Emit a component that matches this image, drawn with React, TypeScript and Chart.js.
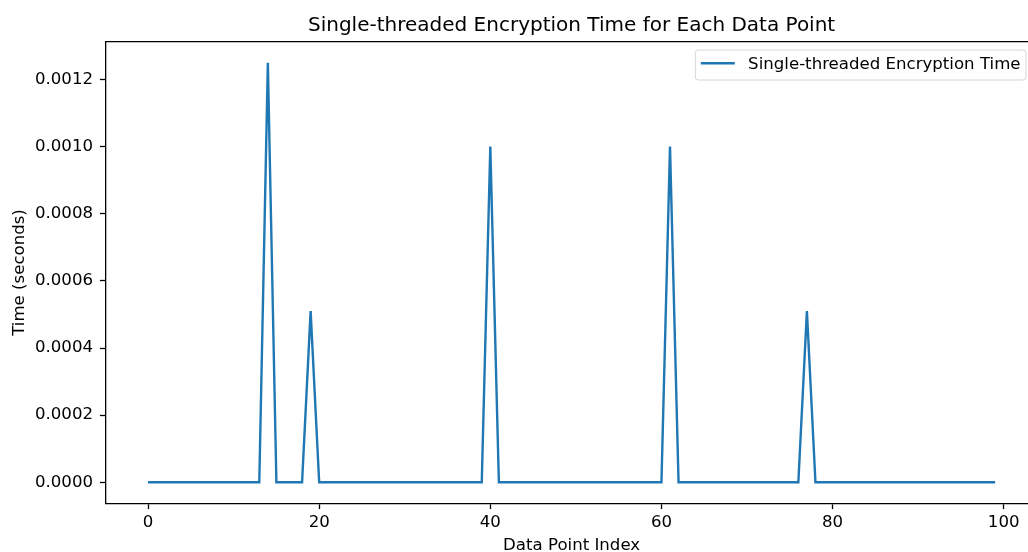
import React, { useEffect, useRef } from 'react';
import { Chart, registerables } from 'chart.js';

Chart.register(...registerables);

const TITLE = 'Single-threaded Encryption Time for Each Data Point';
const X_LABEL = 'Data Point Index';
const Y_LABEL = 'Time (seconds)';
const SERIES_LABEL = 'Single-threaded Encryption Time';

// encryption time (seconds) per data point index 0..99
const encryptionTimes = [
  0, 0, 0, 0, 0, 0, 0, 0, 0, 0,
  0, 0, 0, 0, 0.00125, 0, 0, 0, 0, 0.00051,
  0, 0, 0, 0, 0, 0, 0, 0, 0, 0,
  0, 0, 0, 0, 0, 0, 0, 0, 0, 0,
  0.001, 0, 0, 0, 0, 0, 0, 0, 0, 0,
  0, 0, 0, 0, 0, 0, 0, 0, 0, 0,
  0, 0.001, 0, 0, 0, 0, 0, 0, 0, 0,
  0, 0, 0, 0, 0, 0, 0, 0.00051, 0, 0,
  0, 0, 0, 0, 0, 0, 0, 0, 0, 0,
  0, 0, 0, 0, 0, 0, 0, 0, 0, 0,
];

const xTicks = [0, 20, 40, 60, 80, 100];
const yTicks = [0, 0.0002, 0.0004, 0.0006, 0.0008, 0.001, 0.0012];

const FONT = '"DejaVu Sans", "Liberation Sans", sans-serif';
const LINE_COLOR = '#1f77b4';

const decorPlugin = {
  id: 'decor',
  afterDraw(chart: any) {
    const { ctx, chartArea: a } = chart;
    ctx.save();
    // top spine (right spine lies beyond the visible page)
    ctx.strokeStyle = '#000';
    ctx.lineWidth = 1.3;
    ctx.beginPath();
    ctx.moveTo(a.left, a.top);
    ctx.lineTo(a.right, a.top);
    ctx.stroke();

    // title
    ctx.fillStyle = '#000';
    ctx.font = `20px ${FONT}`;
    ctx.textAlign = 'center';
    ctx.textBaseline = 'alphabetic';
    ctx.fillText(TITLE, (a.left + a.right) / 2, a.top - 11);

    // legend
    ctx.font = `16.6px ${FONT}`;
    const tw = ctx.measureText(SERIES_LABEL).width;
    const pad = 5.5;
    const handle = 34;
    const gap = 13.3;
    const right = a.right - 11.5;
    const left = right - (pad * 2 + handle + gap + tw);
    const top = a.top + 8.3;
    const h = 30;
    ctx.beginPath();
    ctx.roundRect(left, top, right - left, h, 3);
    ctx.fillStyle = 'rgba(255,255,255,0.8)';
    ctx.fill();
    ctx.strokeStyle = '#d6d6d6';
    ctx.lineWidth = 1;
    ctx.stroke();

    const ly = top + 13.3;
    ctx.beginPath();
    ctx.moveTo(left + pad, ly);
    ctx.lineTo(left + pad + handle, ly);
    ctx.strokeStyle = LINE_COLOR;
    ctx.lineWidth = 2.4;
    ctx.stroke();

    ctx.fillStyle = '#000';
    ctx.textAlign = 'left';
    ctx.textBaseline = 'alphabetic';
    ctx.fillText(SERIES_LABEL, left + pad + handle + gap, top + 19.3);
    ctx.restore();
  },
};

export default function App() {
  const canvasRef = useRef<HTMLCanvasElement | null>(null);

  useEffect(() => {
    const canvas = canvasRef.current;
    if (!canvas) return;
    const points = encryptionTimes.map((v, i) => ({ x: i, y: v }));
    const chart = new Chart(canvas, {
      type: 'line',
      data: {
        datasets: [
          {
            label: SERIES_LABEL,
            data: points,
            borderColor: LINE_COLOR,
            backgroundColor: LINE_COLOR,
            borderWidth: 2.4,
            pointRadius: 0,
            tension: 0,
            fill: false,
          },
        ],
      },
      options: {
        animation: false,
        responsive: false,
        layout: { padding: { left: 0, top: 41.7, right: 8.5, bottom: 0 } },
        plugins: {
          legend: { display: false },
          title: { display: false },
          tooltip: { enabled: false },
        },
        scales: {
          x: {
            type: 'linear',
            min: -4.95,
            max: 103.95,
            afterBuildTicks: (scale: any) => {
              scale.ticks = xTicks.map((v) => ({ value: v }));
            },
            afterFit: (scale: any) => {
              scale.height = 48.7;
            },
            ticks: {
              color: '#000',
              font: { family: FONT, size: 16.6 },
              padding: 3.5,
              maxRotation: 0,
              callback: (v: any) => String(v),
            },
            grid: {
              drawOnChartArea: false,
              drawTicks: true,
              tickLength: 5.8,
              tickColor: '#000',
              tickWidth: 1.3,
              color: '#000',
            },
            border: { display: true, color: '#000', width: 1.3 },
            title: {
              display: true,
              text: X_LABEL,
              color: '#000',
              font: { family: FONT, size: 16.6, lineHeight: 0.76 },
              padding: { top: 0, bottom: 0 },
            },
          },
          y: {
            type: 'linear',
            min: -0.0000625,
            max: 0.0013125,
            afterBuildTicks: (scale: any) => {
              scale.ticks = yTicks.map((v) => ({ value: v }));
            },
            afterFit: (scale: any) => {
              scale.width = 105.7;
            },
            ticks: {
              color: '#000',
              font: { family: FONT, size: 16.6 },
              padding: 6.9,
              callback: (v: any) => Number(v).toFixed(4),
            },
            grid: {
              drawOnChartArea: false,
              drawTicks: true,
              tickLength: 5.8,
              tickColor: '#000',
              tickWidth: 1.3,
              color: '#000',
            },
            border: { display: true, color: '#000', width: 1.3 },
            title: {
              display: true,
              text: Y_LABEL,
              color: '#000',
              font: { family: FONT, size: 16.6, lineHeight: 0.76 },
              padding: { top: 13, bottom: 0 },
            },
          },
        },
      },
      plugins: [decorPlugin],
    });
    return () => chart.destroy();
  }, []);

  return (
    <div
      style={{
        position: 'fixed',
        left: 0,
        top: 0,
        width: 1028,
        height: 552,
        overflow: 'hidden',
        background: '#fff',
      }}
    >
      <canvas
        ref={canvasRef}
        width={1046}
        height={552}
        style={{ display: 'block', width: 1046, height: 552 }}
      />
    </div>
  );
}
